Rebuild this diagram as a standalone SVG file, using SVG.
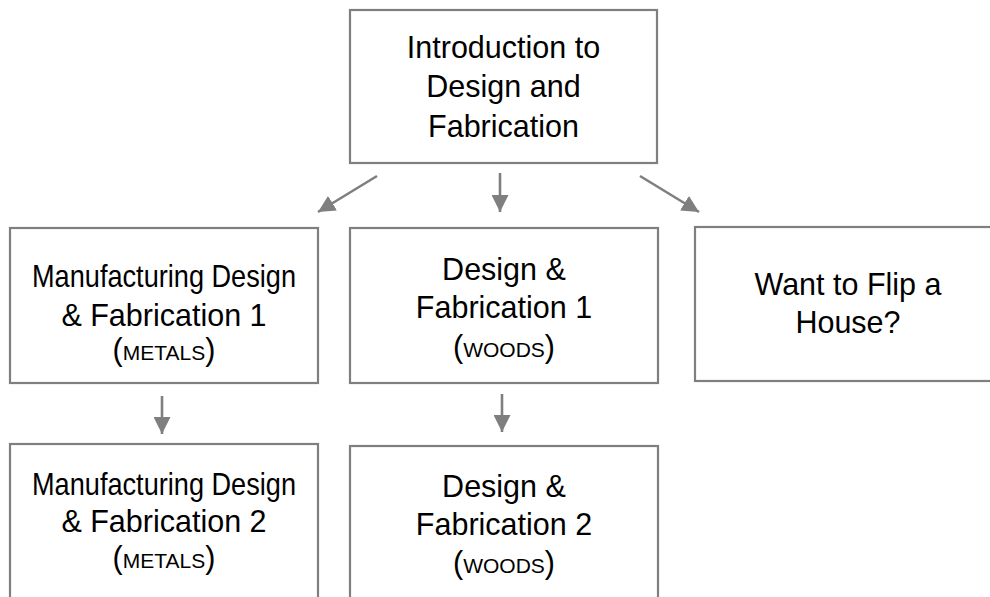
<svg xmlns="http://www.w3.org/2000/svg" width="990" height="597" viewBox="0 0 990 597">
<style>
.box{fill:#ffffff;stroke:#7f7f7f;stroke-width:2.2}
.t{font-family:"Liberation Sans",Arial,sans-serif;font-size:30.5px;fill:#000;text-anchor:middle}
.sc{font-size:21px}
.c{stroke:#7f7f7f;stroke-width:2.6;fill:none}
</style>
<defs>
<marker id="ah" markerUnits="userSpaceOnUse" markerWidth="17" markerHeight="17" refX="17" refY="8.5" orient="auto">
<path d="M0,0 L17,8.5 L0,17 z" fill="#7f7f7f"/>
</marker>
</defs>
<rect width="990" height="597" fill="#ffffff"/>
<g id="connectors">
<line class="c" x1="377" y1="176" x2="318" y2="212" marker-end="url(#ah)"/>
<line class="c" x1="500" y1="173" x2="500" y2="212" marker-end="url(#ah)"/>
<line class="c" x1="640" y1="176" x2="699" y2="212" marker-end="url(#ah)"/>
<line class="c" x1="162" y1="396" x2="162" y2="434" marker-end="url(#ah)"/>
<line class="c" x1="502" y1="394" x2="502" y2="432" marker-end="url(#ah)"/>
</g>
<g id="intro">
<rect class="box" x="350" y="10" width="307" height="153"/>
<text class="t" x="503.5" y="58">Introduction to</text>
<text class="t" x="503.5" y="97">Design and</text>
<text class="t" x="503.5" y="137">Fabrication</text>
</g>
<g id="mdf1">
<rect class="box" x="10" y="228" width="308" height="155"/>
<text class="t" x="164" y="287" textLength="264" lengthAdjust="spacingAndGlyphs">Manufacturing Design</text>
<text class="t" x="164" y="326">&amp; Fabrication 1</text>
<text class="t" x="164" y="360">(<tspan class="sc">METALS</tspan>)</text>
</g>
<g id="df1">
<rect class="box" x="350" y="228" width="308" height="155"/>
<text class="t" x="504" y="280">Design &amp;</text>
<text class="t" x="504" y="318">Fabrication 1</text>
<text class="t" x="504" y="357">(<tspan class="sc">WOODS</tspan>)</text>
</g>
<g id="flip">
<rect class="box" x="695" y="227" width="310" height="154"/>
<text class="t" x="848" y="295">Want to Flip a</text>
<text class="t" x="848" y="333">House?</text>
</g>
<g id="mdf2">
<rect class="box" x="10" y="444" width="308" height="200"/>
<text class="t" x="164" y="495" textLength="264" lengthAdjust="spacingAndGlyphs">Manufacturing Design</text>
<text class="t" x="164" y="532">&amp; Fabrication 2</text>
<text class="t" x="164" y="568">(<tspan class="sc">METALS</tspan>)</text>
</g>
<g id="df2">
<rect class="box" x="350" y="446" width="308" height="200"/>
<text class="t" x="504" y="497">Design &amp;</text>
<text class="t" x="504" y="535">Fabrication 2</text>
<text class="t" x="504" y="573">(<tspan class="sc">WOODS</tspan>)</text>
</g>
</svg>
